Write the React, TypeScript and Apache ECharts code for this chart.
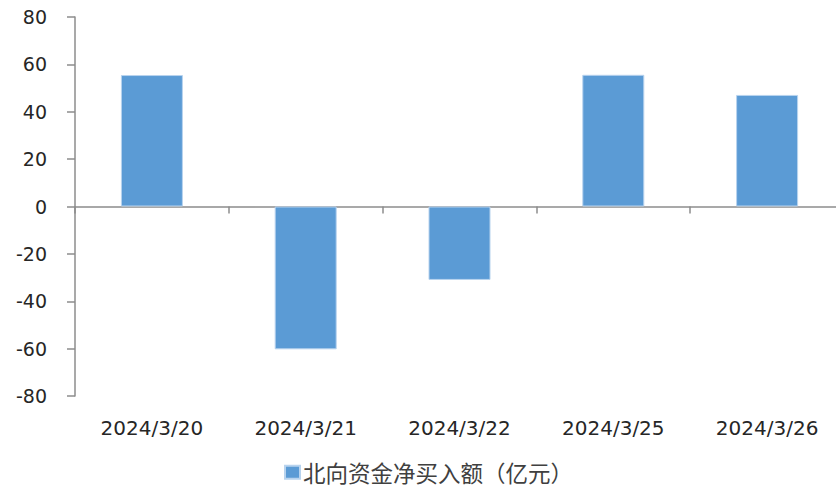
import React, { useEffect, useRef } from "react";
import * as echarts from "echarts";

const categories = ["2024/3/20", "2024/3/21", "2024/3/22", "2024/3/25", "2024/3/26"];
const netBuy = [55.5, -60.3, -31.0, 55.6, 47.1];
const seriesName = "北向资金净买入额（亿元）";

export default function App() {
  const ref = useRef<HTMLDivElement>(null);
  useEffect(() => {
    if (!ref.current) return;
    const chart = echarts.init(ref.current, null, { renderer: "svg" });
    const axisColor = "#8c8c8c";
    const textColor = "#262626";
    chart.setOption({
      animation: false,
      backgroundColor: "#ffffff",
      grid: { left: 75, top: 17, right: 0, height: 379, containLabel: false },
      legend: {
        left: 284,
        top: 461,
        padding: 0,
        icon: "rect",
        itemWidth: 15,
        itemHeight: 13,
        itemGap: 5,
        textStyle: {
          fontFamily: "Noto Sans CJK SC",
          fontSize: 22.5,
          lineHeight: 22,
          color: "#404040",
          padding: [0, 0, 0, -2],
        },
        data: [seriesName],
      },
      xAxis: [
        {
          type: "category",
          data: categories,
          position: "bottom",
          axisLine: { show: false, onZero: false },
          axisTick: { show: false },
          axisLabel: {
            margin: 22,
            fontFamily: "DejaVu Sans",
            fontSize: 20,
            color: textColor,
          },
        },
        {
          type: "category",
          data: categories,
          position: "bottom",
          axisLine: { show: true, onZero: true, lineStyle: { color: axisColor, width: 1.5 } },
          axisTick: { show: true, length: 7, lineStyle: { color: axisColor, width: 1.5 } },
          axisLabel: { show: false },
        },
      ],
      yAxis: {
        type: "value",
        min: -80,
        max: 80,
        interval: 20,
        splitLine: { show: false },
        axisLine: { show: true, lineStyle: { color: axisColor, width: 1.5 } },
        axisTick: { show: true, length: 8, lineStyle: { color: axisColor, width: 1.5 } },
        axisLabel: {
          margin: 28,
          fontFamily: "DejaVu Sans",
          fontSize: 19,
          color: textColor,
        },
      },
      series: [
        {
          name: seriesName,
          type: "bar",
          data: netBuy,
          xAxisIndex: 0,
          barWidth: 62,
          itemStyle: { color: "#5b9bd5", borderColor: "#b8d3ee", borderWidth: 1 },
        },
      ],
    });
    return () => chart.dispose();
  }, []);
  return (
    <div
      style={{ position: "absolute", left: 0, top: 0, width: 836, height: 487, overflow: "hidden", background: "#fff" }}
    >
      <div ref={ref} style={{ width: 844, height: 487 }} />
    </div>
  );
}
